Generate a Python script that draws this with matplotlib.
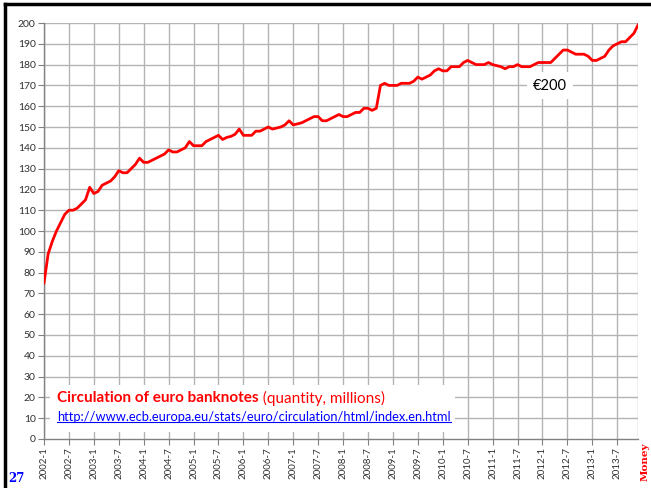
import numpy as np
import matplotlib.pyplot as plt
from matplotlib.lines import Line2D
from matplotlib.patches import Rectangle

plt.rcParams['font.family'] = ['Lato', 'DejaVu Sans']

# banconote da 200 euro in circolazione (milioni), mensili 2002-1 .. 2013-12
valori = [75, 89, 95, 100, 104, 108, 110, 110, 111, 113, 115, 121,
          118, 119, 122, 123, 124, 126, 129, 128, 128, 130, 132, 135,
          133, 133, 134, 135, 136, 137, 139, 138, 138, 139, 140, 143,
          141, 141, 141, 143, 144, 145, 146, 144, 145, 145.5, 146.5, 149,
          146, 146, 146, 148, 148, 149, 150, 149, 149.5, 150, 151, 153,
          151, 151.5, 152, 153, 154, 155, 155, 153, 153, 154, 155, 156,
          155, 155, 156, 157, 157, 159, 159, 158, 159, 170, 171, 170,
          170, 170, 171, 171, 171, 172, 174, 173, 174, 175, 177, 178,
          177, 177, 179, 179, 179, 181, 182, 181, 180, 180, 180, 181,
          180, 179.5, 179, 178, 179, 179, 180, 179, 179, 179, 180, 181,
          181, 181, 181, 183, 185, 187, 187, 186, 185, 185, 185, 184,
          182, 182, 183, 184, 187, 189, 190, 191, 191, 193, 195, 199]
anni = list(range(2002, 2014))
mesi_tick = [1, 7]
etichette = [f"{a}-{m}" for a in anni for m in mesi_tick]

titolo_bold = "Circulation of euro banknotes"
titolo_norm = " (quantity, millions)"
url = "http://www.ecb.europa.eu/stats/euro/circulation/html/index.en.html"

fig = plt.figure(figsize=(6.51, 4.88), dpi=100)
ax = fig.add_axes([44/651, 1 - 439/488, (638 - 44)/651, (439 - 23)/488])

x = np.arange(len(valori))
griglia = '#b4b4b4'
for k in range(0, len(valori), 6):
    ax.axvline(k, color=griglia, lw=1.0, zorder=1)
ax.axvline(len(valori) - 1, color=griglia, lw=1.0, zorder=1)
for v in range(10, 201, 10):
    ax.axhline(v, color=griglia, lw=1.0, zorder=1)

ax.plot(x, valori, color='#ff0000', lw=2.0, zorder=3, solid_joinstyle='round')

ax.set_xlim(0, len(valori) - 1)
ax.set_ylim(0, 200)
ax.set_yticks(range(0, 201, 10))
ax.set_xticks(range(0, len(valori), 6))
ax.set_xticklabels(etichette, rotation=90, fontsize=7, color='#303030')
ax.tick_params(axis='y', labelsize=7.5, length=4, color='#808080', pad=2, labelcolor='#303030')
ax.tick_params(axis='x', length=4, color='#808080', pad=2)
for s in ['top', 'right']:
    ax.spines[s].set_visible(False)
for s in ['left', 'bottom']:
    ax.spines[s].set_color('#808080')
    ax.spines[s].set_linewidth(1.0)

# riquadri bianchi che coprono la griglia
def box_pixel(x0, y0, x1, y1):
    r = Rectangle((x0/651, 1 - y1/488), (x1 - x0)/651, (y1 - y0)/488,
                  transform=fig.transFigure, facecolor='white', edgecolor='none', zorder=4)
    fig.add_artist(r)

box_pixel(50, 385, 455, 432)
box_pixel(527, 72, 573, 99)

fig.text(550/651, 1 - 86/488, "€200", fontsize=10.5, ha='center', va='center', zorder=5)

t1 = fig.text(57/651, 1 - 398/488, titolo_bold, fontsize=11, color='#ff0000',
              fontweight='bold', va='center', zorder=5)
fig.canvas.draw()
bb = t1.get_window_extent()
fig.text(bb.x1 / fig.bbox.width, 1 - 398/488, titolo_norm, fontsize=11, color='#ff0000',
         va='center', zorder=5)
t3 = fig.text(57/651, 1 - 417/488, url, fontsize=9.3, color='#0000ff', va='center', zorder=5)
fig.canvas.draw()
bb = t3.get_window_extent()
fig.add_artist(Line2D([bb.x0 / 651, bb.x1 / 651], [(bb.y0 + 1) / 488, (bb.y0 + 1) / 488],
                      transform=fig.transFigure, color='#0000ff', lw=0.8, zorder=5))

# bordo della slide
fig.add_artist(Line2D([5/651, 5/651], [0, 1 - 4/488], transform=fig.transFigure,
                      color='black', lw=2.5))
fig.add_artist(Line2D([5/651, 1], [1 - 4/488, 1 - 4/488], transform=fig.transFigure,
                      color='black', lw=2.5))

fig.text(8/651, 1 - 478/488, "27", fontsize=8.5, color='#0000ff', fontweight='bold',
         family='DejaVu Serif', va='center')
fig.text(645/651, 1 - 462/488, "Money", fontsize=7.5, color='#ff0000', fontweight='bold',
         family='DejaVu Serif', rotation=90, va='center', ha='center')

fig.savefig("out.png", dpi=100)
